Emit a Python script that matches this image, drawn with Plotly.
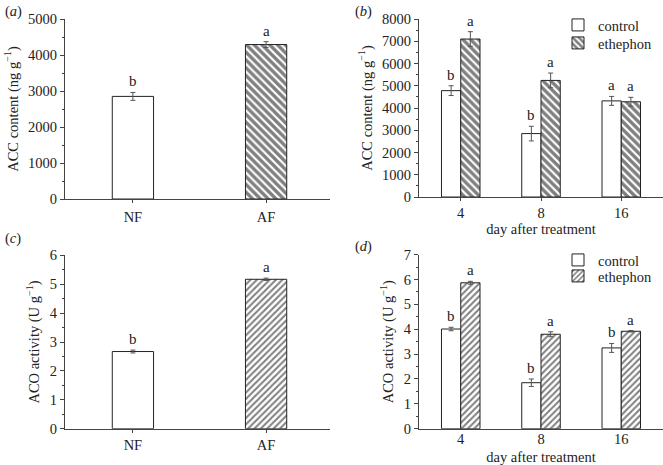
import plotly.graph_objects as go

# ---- data ----
cats_ac = ["NF", "AF"]
acc_a = [2850, 4290]
acc_a_err = [110, 80]
aco_c = [2.67, 5.17]
aco_c_err = [0.05, 0.04]
letters_a = ["b", "a"]
letters_c = ["b", "a"]

days = ["4", "8", "16"]
acc_b_control = [4780, 2850, 4320]
acc_b_control_err = [220, 330, 200]
acc_b_ethephon = [7100, 5240, 4280]
acc_b_ethephon_err = [330, 330, 200]
letters_b_control = ["b", "b", "a"]
letters_b_ethephon = ["a", "a", "a"]

aco_d_control = [4.01, 1.85, 3.25]
aco_d_control_err = [0.07, 0.15, 0.18]
aco_d_ethephon = [5.87, 3.80, 3.92]
aco_d_ethephon_err = [0.06, 0.10, 0.03]
letters_d_control = ["b", "b", "b"]
letters_d_ethephon = ["a", "a", "a"]

FONT = "Liberation Serif"
TXT = "#222"
AX = "#444"
W, H = 663, 465

fig = go.Figure()

def px_x(x0, x1):
    return [x0 / W, x1 / W]

def px_y(ybot, ytop):
    return [(H - ybot) / H, (H - ytop) / H]

err_style = dict(type="data", color="#555", thickness=1, width=2.5, visible=True)
bw_single = 0.31
bw_group = 0.24

def pat(shape, size, sol):
    return dict(shape=shape, fgcolor="black", bgcolor="white", size=size, solidity=sol)

PAT_AB = pat("\\", 5.5, 0.6)
PAT_CD = pat("/", 4.5, 0.45)
LINE = dict(color="#222", width=1)

# panel a
fig.add_trace(go.Bar(x=[0], y=[acc_a[0]], width=bw_single, marker=dict(color="white", line=LINE),
                     error_y=dict(array=[acc_a_err[0]], **err_style), xaxis="x", yaxis="y", showlegend=False))
fig.add_trace(go.Bar(x=[1], y=[acc_a[1]], width=bw_single, marker=dict(color="white", pattern=PAT_AB, line=LINE),
                     error_y=dict(array=[acc_a_err[1]], **err_style), xaxis="x", yaxis="y", showlegend=False))
# panel c
fig.add_trace(go.Bar(x=[0], y=[aco_c[0]], width=bw_single, marker=dict(color="white", line=LINE),
                     error_y=dict(array=[aco_c_err[0]], **err_style), xaxis="x3", yaxis="y3", showlegend=False))
fig.add_trace(go.Bar(x=[1], y=[aco_c[1]], width=bw_single, marker=dict(color="white", pattern=PAT_CD, line=LINE),
                     error_y=dict(array=[aco_c_err[1]], **err_style), xaxis="x3", yaxis="y3", showlegend=False))

idx = list(range(len(days)))
xc = [i - bw_group / 2 for i in idx]
xe = [i + bw_group / 2 for i in idx]

# panel b
fig.add_trace(go.Bar(x=xc, y=acc_b_control, width=bw_group, name="control",
                     marker=dict(color="white", line=LINE),
                     error_y=dict(array=acc_b_control_err, **err_style), xaxis="x2", yaxis="y2", legend="legend"))
fig.add_trace(go.Bar(x=xe, y=acc_b_ethephon, width=bw_group, name="ethephon",
                     marker=dict(color="white", pattern=PAT_AB, line=LINE),
                     error_y=dict(array=acc_b_ethephon_err, **err_style), xaxis="x2", yaxis="y2", legend="legend3"))
# panel d
fig.add_trace(go.Bar(x=xc, y=aco_d_control, width=bw_group, name="control",
                     marker=dict(color="white", line=LINE),
                     error_y=dict(array=aco_d_control_err, **err_style), xaxis="x4", yaxis="y4", legend="legend2"))
fig.add_trace(go.Bar(x=xe, y=aco_d_ethephon, width=bw_group, name="ethephon",
                     marker=dict(color="white", pattern=PAT_CD, line=LINE),
                     error_y=dict(array=aco_d_ethephon_err, **err_style), xaxis="x4", yaxis="y4", legend="legend4"))

anns = []
def add_letters(xs, vals, errs, letters, xref, yref):
    for x, v, e, l in zip(xs, vals, errs, letters):
        anns.append(dict(x=x, y=v + e, xref=xref, yref=yref, text=l, showarrow=False,
                         yanchor="bottom", yshift=1, font=dict(family=FONT, size=15, color=TXT)))

add_letters([0, 1], acc_a, acc_a_err, letters_a, "x", "y")
add_letters([0, 1], aco_c, aco_c_err, letters_c, "x3", "y3")
add_letters(xc, acc_b_control, acc_b_control_err, letters_b_control, "x2", "y2")
add_letters(xe, acc_b_ethephon, acc_b_ethephon_err, letters_b_ethephon, "x2", "y2")
add_letters(xc, aco_d_control, aco_d_control_err, letters_d_control, "x4", "y4")
add_letters(xe, aco_d_ethephon, aco_d_ethephon_err, letters_d_ethephon, "x4", "y4")

for lab, x, y in [("(<i>a</i>)", 3, 12), ("(<i>b</i>)", 353, 12), ("(<i>c</i>)", 3, 239), ("(<i>d</i>)", 353, 246)]:
    anns.append(dict(x=x / W, y=(H - y) / H, xref="paper", yref="paper", text=lab, showarrow=False,
                     xanchor="left", yanchor="middle", font=dict(family=FONT, size=14.5, color=TXT)))

tickfont = dict(family=FONT, size=14.5, color=TXT)
titlefont = dict(family=FONT, size=14.5, color=TXT)

def xaxis(domain, rng, tickvals, ticktext, anchor, title=None, lab_off=0, standoff=3, ticks="outside"):
    d = dict(domain=domain, range=rng, tickvals=tickvals, ticktext=ticktext, showline=True, linecolor=AX,
             linewidth=1, ticks=ticks, ticklen=3, tickcolor=AX, showgrid=False, zeroline=False,
             tickfont=tickfont, fixedrange=True, anchor=anchor, automargin=False,
             ticklabelstandoff=lab_off)
    if title:
        d["title"] = dict(text=title, font=titlefont, standoff=standoff)
    return d

def yaxis(domain, rng, dtick, title, anchor):
    return dict(domain=domain, range=rng, dtick=dtick, showline=True, linecolor=AX, linewidth=1,
                ticks="outside", ticklen=4, tickcolor=AX, showgrid=False, zeroline=False,
                tickfont=tickfont, anchor=anchor, automargin=False, fixedrange=True,
                minor=dict(dtick=dtick / 2, ticks="outside", ticklen=2, tickcolor=AX, showgrid=False),
                title=dict(text=title, font=titlefont, standoff=6))

def leg(ycenter):
    return dict(x=558 / W, y=(H - ycenter) / H, xanchor="left", yanchor="middle",
                bgcolor="rgba(0,0,0,0)", itemwidth=30, tracegroupgap=0,
                font=dict(family=FONT, size=14.5, color=TXT))

fig.update_layout(
    width=W, height=H, margin=dict(l=0, r=0, t=0, b=0, autoexpand=False),
    paper_bgcolor="white", plot_bgcolor="white",
    barmode="overlay",
    xaxis=xaxis(px_x(65, 330), [-0.51, 1.48], [0, 1], cats_ac, "y", lab_off=2),
    yaxis=yaxis(px_y(199, 19), [0, 5000], 1000, "ACC content (ng g<sup>−1</sup>)", "x"),
    xaxis2=xaxis(px_x(419, 663), [-0.52, 2.52], idx, days, "y2", "day after treatment"),
    yaxis2=yaxis(px_y(197, 19), [0, 8000], 1000, "ACC content (ng g<sup>−1</sup>)", "x2"),
    xaxis3=xaxis(px_x(65, 330), [-0.51, 1.48], [0, 1], cats_ac, "y3"),
    yaxis3=yaxis(px_y(428.7, 255.3), [0, 6], 1, "ACO activity (U g<sup>−1</sup>)", "x3"),
    xaxis4=xaxis(px_x(419, 663), [-0.52, 2.52], idx, days, "y4", "day after treatment",
                 lab_off=-3, standoff=5, ticks=""),
    yaxis4=yaxis(px_y(428.7, 254.7), [0, 7], 1, "ACO activity (U g<sup>−1</sup>)", "x4"),
    legend=leg(25),
    legend3=leg(43),
    legend2=leg(260),
    legend4=leg(276),
    annotations=anns,
    font=dict(family=FONT, size=14.5, color=TXT),
)

fig.write_html("out.html", config={"displayModeBar": False},
               post_script="document.body.style.margin='0px';document.body.style.overflow='hidden';")
